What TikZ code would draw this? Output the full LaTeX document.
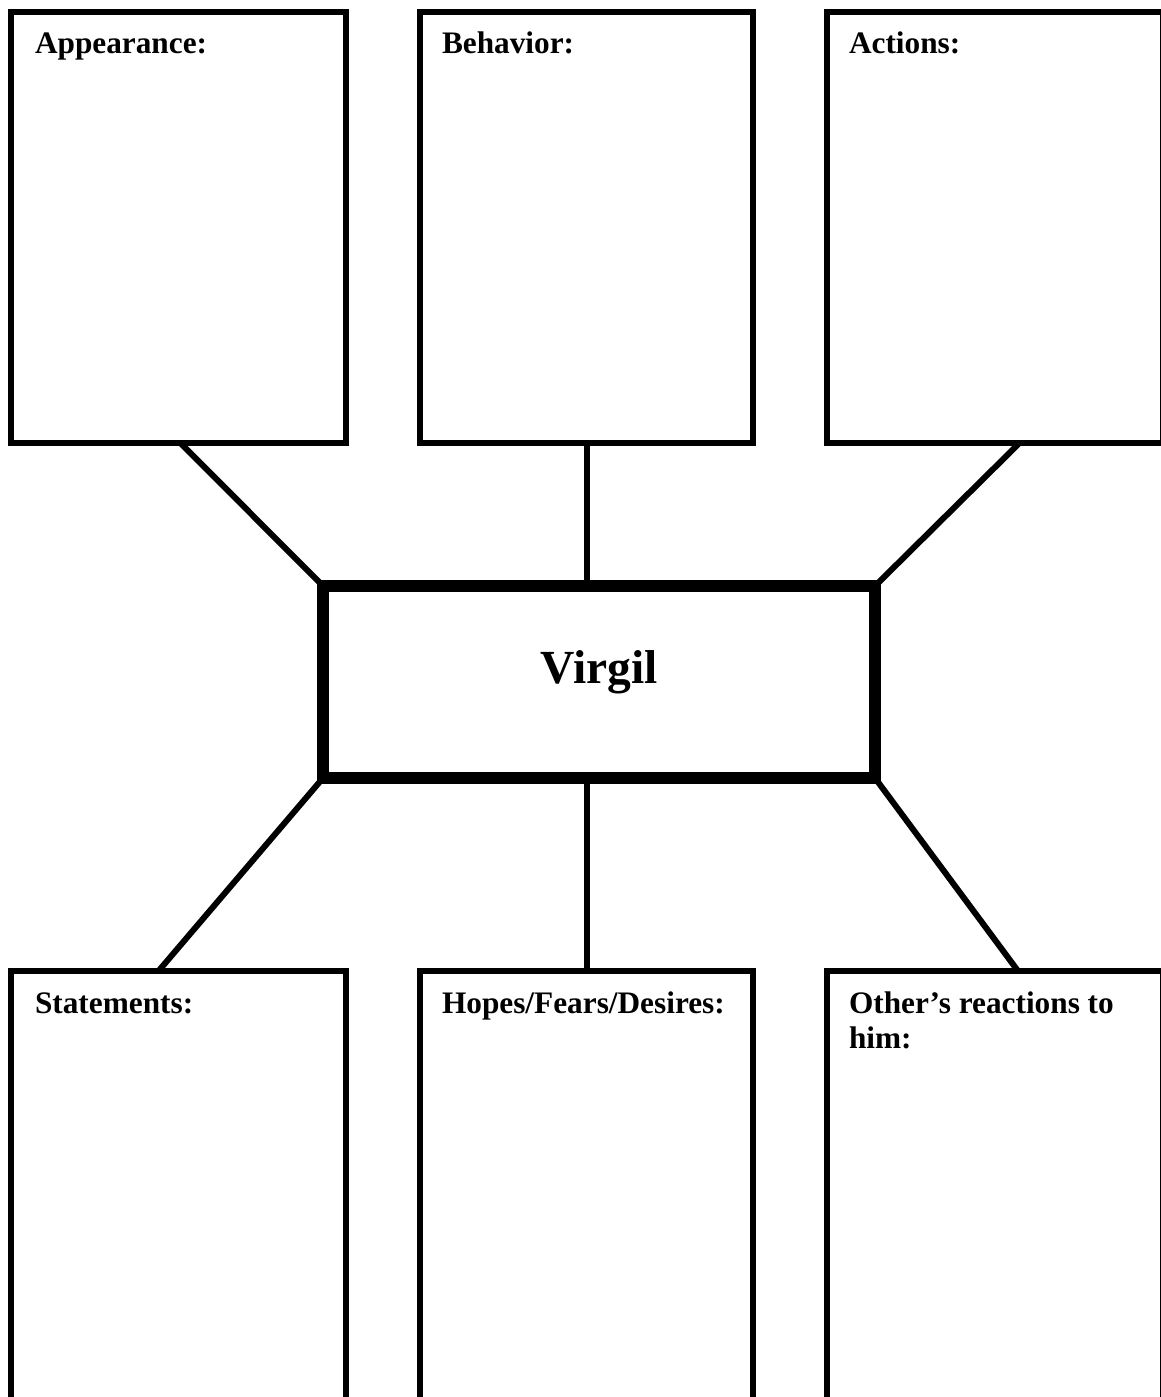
\documentclass[tikz,border=0pt]{standalone}
\usepackage{fontspec}
\setmainfont{Liberation Serif}
\begin{document}
\begin{tikzpicture}[x=1pt,y=-1pt,
  panel/.style={draw=black,line width=6pt,fill=white,rectangle,inner sep=0pt,outer sep=0pt,minimum width=335pt},
  toppanel/.style={panel,minimum height=430pt},
  botpanel/.style={panel,minimum height=439pt},
  hub/.style={draw=black,line width=12pt,fill=white,rectangle,inner sep=0pt,outer sep=0pt,minimum width=552pt,minimum height=192pt},
  link/.style={draw=black,line width=6pt},
  lbl/.style={inner sep=0pt,outer sep=0pt,anchor=base west,font=\fontsize{31.3}{35}\selectfont\bfseries,align=left},
  hublbl/.style={inner sep=0pt,outer sep=0pt,anchor=base,font=\fontsize{47.5}{50}\selectfont\bfseries}]
\useasboundingbox (0,0) rectangle (1161,1397);
\clip (0,0) rectangle (1161,1397);
\fill[white] (0,0) rectangle (1161,1397);
% top panels
\node[toppanel] (tl) at (178.5,227.5) {};
\node[toppanel,minimum width=333pt] (tm) at (586.5,227.5) {};
\node[toppanel,minimum width=336pt] (tr) at (995,227.5) {};
% bottom panels
\node[botpanel] (bl) at (178.5,1190.5) {};
\node[botpanel,minimum width=333pt] (bm) at (586.5,1190.5) {};
\node[botpanel,minimum width=336pt] (br) at (995,1190.5) {};
% hub
\node[hub] (c) at (599,682) {};
% connectors
\draw[link] ([xshift=1.5pt]tl.south) -- (c.north west);
\draw[link] (tm.south) -- (tm.south |- c.north);
\draw[link] ([xshift=25pt]tr.south) -- (c.north east);
\draw[link] ([xshift=-20pt]bl.north) -- (c.south west);
\draw[link] (bm.north) -- (bm.north |- c.south);
\draw[link] ([xshift=23pt]br.north) -- (c.south east);
% labels
\node[lbl] (tlt) at (35,53) {Appearance:};
\node[lbl] (tmt) at (442,53) {Behavior:};
\node[lbl] (trt) at (849,53) {Actions:};
\node[lbl] (blt) at (35,1013) {Statements:};
\node[lbl] (bmt) at (442,1013) {Hopes/Fears/Desires:};
\node[lbl] (brt) at (849,1048) {Other’s reactions to\\him:};
\node[hublbl] (ct) at (599,683) {Virgil};
\end{tikzpicture}
\end{document}
